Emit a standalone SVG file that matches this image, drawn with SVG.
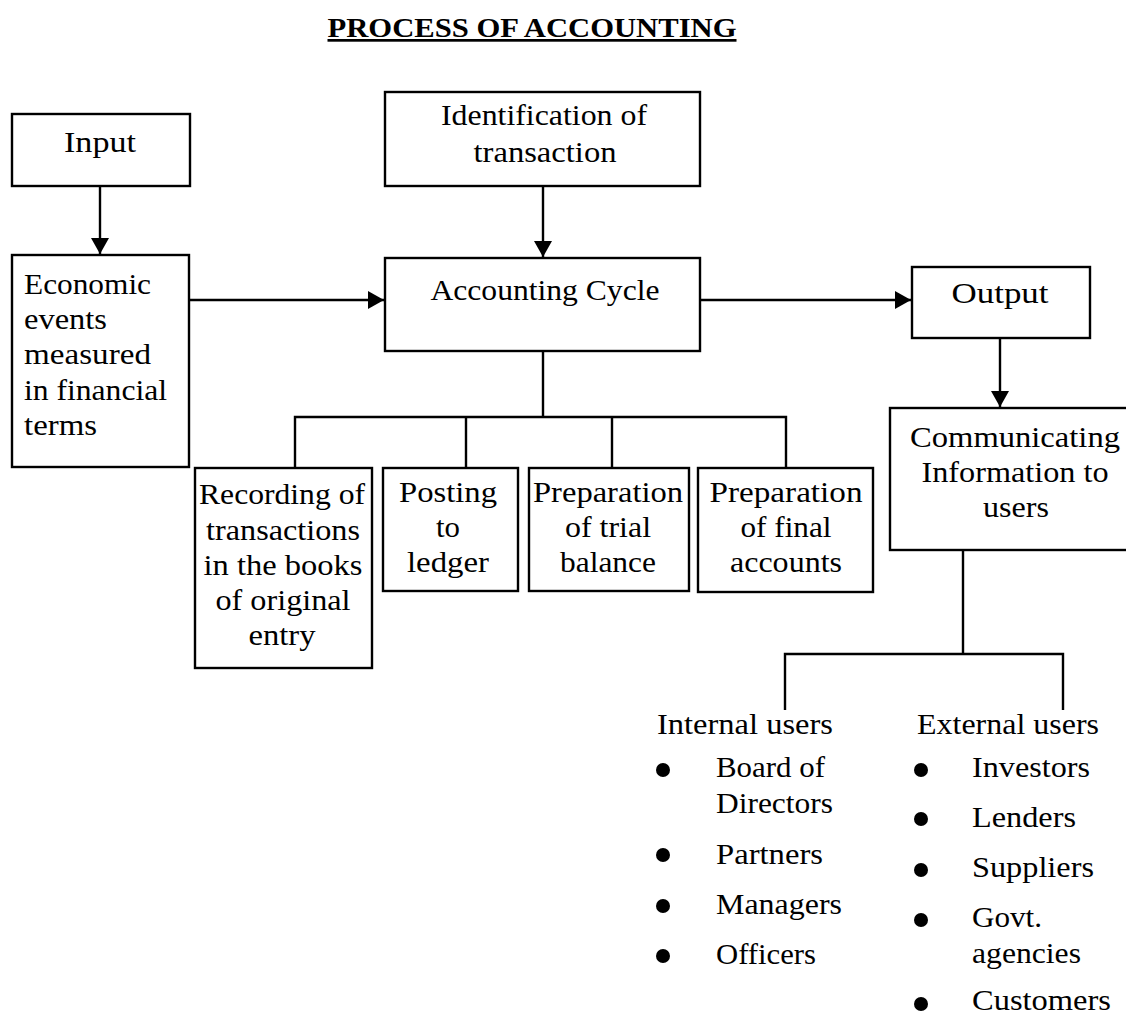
<svg xmlns="http://www.w3.org/2000/svg" width="1126" height="1014" viewBox="0 0 1126 1014">
<style>
  text { font-family: "Liberation Serif", "Times New Roman", serif; font-size: 29px; fill: #000; }
  .c { text-anchor: middle; }
  .title { font-weight: bold; font-size: 27px; text-decoration: underline; }
  .box { fill: #fff; stroke: #000; stroke-width: 2.4; }
  .ln { fill: none; stroke: #000; stroke-width: 2.4; }
  .dot { fill: #000; }
</style>
<defs>
  <marker id="arr" markerUnits="userSpaceOnUse" markerWidth="16" markerHeight="18" refX="16" refY="9" orient="auto">
    <path d="M0,0 L16,9 L0,18 Z" fill="#000"/>
  </marker>
</defs>
<rect width="1126" height="1014" fill="#fff"/>

<text class="title c" x="532" y="37" textLength="409" lengthAdjust="spacingAndGlyphs">PROCESS OF ACCOUNTING</text>

<g id="connectors">
  <line class="ln" x1="100" y1="186" x2="100" y2="254" marker-end="url(#arr)"/>
  <line class="ln" x1="543" y1="186" x2="543" y2="257" marker-end="url(#arr)"/>
  <line class="ln" x1="189" y1="300" x2="384" y2="300" marker-end="url(#arr)"/>
  <line class="ln" x1="700" y1="300" x2="911" y2="300" marker-end="url(#arr)"/>
  <line class="ln" x1="1000" y1="338" x2="1000" y2="407" marker-end="url(#arr)"/>
  <path class="ln" d="M543,351 V417 M295,468 V417 H786 V468 M466,417 V468 M612,417 V468"/>
  <path class="ln" d="M963,550 V654 M785,710 V654 H1063 V710"/>
</g>

<g id="input">
  <rect class="box" x="12" y="114" width="178" height="72"/>
  <text class="c" x="100" y="152" textLength="72" lengthAdjust="spacingAndGlyphs">Input</text>
</g>

<g id="economic">
  <rect class="box" x="12" y="255" width="177" height="212"/>
  <text x="24" y="294" textLength="127" lengthAdjust="spacingAndGlyphs">Economic</text>
  <text x="24" y="329" textLength="83" lengthAdjust="spacingAndGlyphs">events</text>
  <text x="24" y="364" textLength="127" lengthAdjust="spacingAndGlyphs">measured</text>
  <text x="24" y="400" textLength="143" lengthAdjust="spacingAndGlyphs">in financial</text>
  <text x="24" y="435" textLength="73" lengthAdjust="spacingAndGlyphs">terms</text>
</g>

<g id="identification">
  <rect class="box" x="385" y="92" width="315" height="94"/>
  <text class="c" x="544" y="125" textLength="206" lengthAdjust="spacingAndGlyphs">Identification of</text>
  <text class="c" x="545" y="162" textLength="143" lengthAdjust="spacingAndGlyphs">transaction</text>
</g>

<g id="accounting-cycle">
  <rect class="box" x="385" y="258" width="315" height="93"/>
  <text class="c" x="545" y="300" textLength="229" lengthAdjust="spacingAndGlyphs">Accounting Cycle</text>
</g>

<g id="output">
  <rect class="box" x="912" y="267" width="178" height="71"/>
  <text class="c" x="1000" y="303" textLength="97" lengthAdjust="spacingAndGlyphs">Output</text>
</g>

<g id="communicating">
  <rect class="box" x="890" y="408" width="250" height="142"/>
  <text class="c" x="1015" y="447" textLength="210" lengthAdjust="spacingAndGlyphs">Communicating</text>
  <text class="c" x="1015" y="482" textLength="187" lengthAdjust="spacingAndGlyphs">Information to</text>
  <text class="c" x="1016" y="517" textLength="66" lengthAdjust="spacingAndGlyphs">users</text>
</g>

<g id="recording">
  <rect class="box" x="195" y="468" width="177" height="200"/>
  <text class="c" x="282" y="504" textLength="166" lengthAdjust="spacingAndGlyphs">Recording of</text>
  <text class="c" x="283" y="540" textLength="154" lengthAdjust="spacingAndGlyphs">transactions</text>
  <text class="c" x="283" y="575" textLength="159" lengthAdjust="spacingAndGlyphs">in the books</text>
  <text class="c" x="283" y="610" textLength="135" lengthAdjust="spacingAndGlyphs">of original</text>
  <text class="c" x="282" y="645" textLength="67" lengthAdjust="spacingAndGlyphs">entry</text>
</g>

<g id="posting">
  <rect class="box" x="383" y="468" width="135" height="123"/>
  <text class="c" x="448" y="502" textLength="98" lengthAdjust="spacingAndGlyphs">Posting</text>
  <text class="c" x="448" y="537" textLength="24" lengthAdjust="spacingAndGlyphs">to</text>
  <text class="c" x="448" y="572" textLength="82" lengthAdjust="spacingAndGlyphs">ledger</text>
</g>

<g id="trial-balance">
  <rect class="box" x="529" y="468" width="160" height="123"/>
  <text class="c" x="608" y="502" textLength="150" lengthAdjust="spacingAndGlyphs">Preparation</text>
  <text class="c" x="608" y="537" textLength="86" lengthAdjust="spacingAndGlyphs">of trial</text>
  <text class="c" x="608" y="572" textLength="96" lengthAdjust="spacingAndGlyphs">balance</text>
</g>

<g id="final-accounts">
  <rect class="box" x="698" y="468" width="175" height="124"/>
  <text class="c" x="786" y="502" textLength="153" lengthAdjust="spacingAndGlyphs">Preparation</text>
  <text class="c" x="786" y="537" textLength="91" lengthAdjust="spacingAndGlyphs">of final</text>
  <text class="c" x="786" y="572" textLength="112" lengthAdjust="spacingAndGlyphs">accounts</text>
</g>

<g id="internal-users">
  <text x="657" y="734" textLength="176" lengthAdjust="spacingAndGlyphs">Internal users</text>
  <circle class="dot" cx="663" cy="770" r="7"/>
  <text x="716" y="777" textLength="109" lengthAdjust="spacingAndGlyphs">Board of</text>
  <text x="716" y="813" textLength="117" lengthAdjust="spacingAndGlyphs">Directors</text>
  <circle class="dot" cx="663" cy="855" r="7"/>
  <text x="716" y="864" textLength="107" lengthAdjust="spacingAndGlyphs">Partners</text>
  <circle class="dot" cx="663" cy="906" r="7"/>
  <text x="716" y="914" textLength="126" lengthAdjust="spacingAndGlyphs">Managers</text>
  <circle class="dot" cx="663" cy="956" r="7"/>
  <text x="716" y="964" textLength="100" lengthAdjust="spacingAndGlyphs">Officers</text>
</g>

<g id="external-users">
  <text x="917" y="734" textLength="182" lengthAdjust="spacingAndGlyphs">External users</text>
  <circle class="dot" cx="921" cy="770" r="7"/>
  <text x="972" y="777" textLength="118" lengthAdjust="spacingAndGlyphs">Investors</text>
  <circle class="dot" cx="921" cy="819" r="7"/>
  <text x="972" y="827" textLength="104" lengthAdjust="spacingAndGlyphs">Lenders</text>
  <circle class="dot" cx="921" cy="870" r="7"/>
  <text x="972" y="877" textLength="122" lengthAdjust="spacingAndGlyphs">Suppliers</text>
  <circle class="dot" cx="921" cy="920" r="7"/>
  <text x="972" y="927" textLength="70" lengthAdjust="spacingAndGlyphs">Govt.</text>
  <text x="972" y="963" textLength="109" lengthAdjust="spacingAndGlyphs">agencies</text>
  <circle class="dot" cx="921" cy="1004" r="7"/>
  <text x="972" y="1010" textLength="139" lengthAdjust="spacingAndGlyphs">Customers</text>
</g>
</svg>
